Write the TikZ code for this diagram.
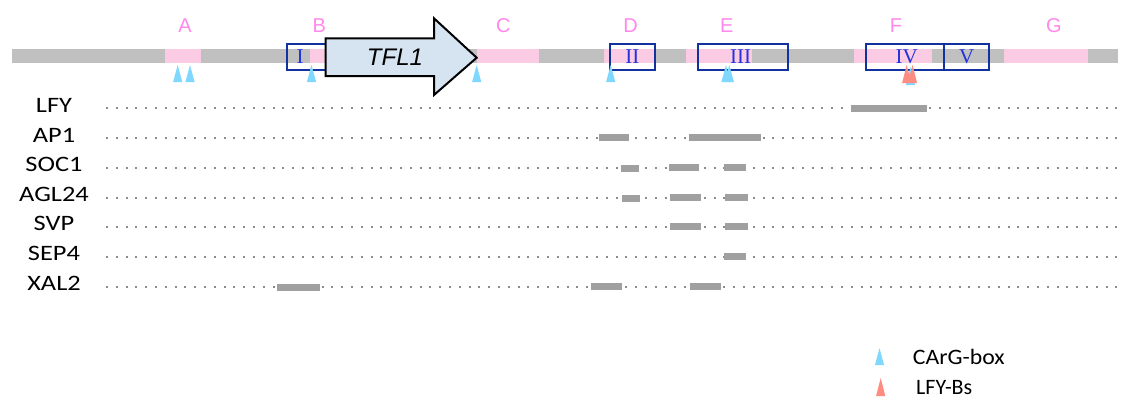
\documentclass[tikz,border=0pt]{standalone}
\usepackage{graphicx}
\usepackage{fontspec}
\setmainfont{Carlito}
\newfontfamily\arialf{Liberation Sans}
\newfontfamily\timesf{Liberation Serif}
\newfontfamily\calf{Carlito}
\definecolor{bargray}{HTML}{C0C0C0}
\definecolor{pinkreg}{HTML}{FBCBE3}
\definecolor{pinklab}{HTML}{FF88EC}
\definecolor{boxblue}{HTML}{12329F}
\definecolor{numblue}{HTML}{2233DD}
\definecolor{cargcol}{HTML}{80D8FF}
\definecolor{lfycol}{HTML}{FF8C80}
\definecolor{bindgray}{HTML}{A0A0A0}
\definecolor{dotgray}{HTML}{8C8C8C}
\definecolor{arrowfill}{HTML}{D6E4F2}
\newcommand\mytri[4]{\fill[#1] (#2-4.6,#4) -- (#2,#3) -- (#2+4.6,#4) -- cycle;}
\newcommand\mybind[3]{\fill[bindgray] (#1,#3-3.7) rectangle (#2,#3+3.7);}
\begin{document}
\begin{tikzpicture}[x=1pt,y=-1pt,
  genebar/.style={fill=bargray},
  region/.style={fill=pinkreg},
  sitebox/.style={draw=boxblue,line width=2pt},
  numeral/.style={text=numblue,font=\timesf\fontsize{21}{21}\selectfont,inner sep=0pt},
  reglabel/.style={text=pinklab,font=\arialf\fontsize{20}{20}\selectfont,inner sep=0pt},
  rowlabel/.style={font=\calf\fontsize{22}{22}\selectfont,inner sep=0pt},
  legtext/.style={font=\calf\fontsize{22}{22}\selectfont,inner sep=0pt,anchor=west},
  dotline/.style={draw=dotgray,line width=2pt,dash pattern=on 2pt off 7.8pt},
  genearrow/.style={draw=black,line width=2pt,fill=arrowfill,line join=miter}]
\useasboundingbox (0,0) rectangle (1122,399);
\fill[white] (0,0) rectangle (1122,399);
% genomic bar
\fill[genebar] (12.3,49.3) rectangle (1118,63.3);
\fill[region] (165,49.3) rectangle (201,63.3);
\fill[region] (310,49.3) rectangle (326,63.3);
\fill[region] (476.7,49.3) rectangle (539,63.3);
\fill[region] (604,49.3) rectangle (655,63.3);
\fill[region] (685.7,49.3) rectangle (752.3,63.3);
\fill[region] (854,49.3) rectangle (932.3,63.3);
\fill[region] (1004,49.3) rectangle (1088.3,63.3);
% region labels
\node[reglabel] (rA) at (185,26) {A};
\node[reglabel] (rB) at (319.3,26) {B};
\node[reglabel] (rC) at (503.3,26) {C};
\node[reglabel] (rD) at (630.7,26) {D};
\node[reglabel] (rE) at (726.7,26) {E};
\node[reglabel] (rF) at (896,26) {F};
\node[reglabel] (rG) at (1054,26) {G};
% numerals
\node[numeral] (nI) at (300,57) {I};
\node[numeral] (nII) at (632.3,57) {II};
\node[numeral] (nIII) at (740.5,57) {III};
\node[numeral] (nIV) at (906.7,57) {IV};
\node[numeral] (nV) at (966.7,57) {V};
% boxes
\draw[sitebox] (287.3,44) rectangle (325.7,70);
\draw[sitebox] (610,44) rectangle (655.3,70);
\draw[sitebox] (697.5,44) rectangle (788,70);
\draw[sitebox] (866,44) rectangle (944.3,70);
\draw[sitebox] (944.3,44) rectangle (989,70);
% triangles
\mytri{cargcol}{177.7}{65}{82}
\mytri{cargcol}{190}{65}{82}
\mytri{cargcol}{311.5}{65}{82}
\mytri{cargcol}{476.7}{65}{82}
\mytri{cargcol}{610.7}{65}{82}
\mytri{cargcol}{726}{65}{82}
\mytri{cargcol}{729.3}{65}{82}
\mytri{cargcol}{910.5}{67}{85}
\mytri{lfycol}{906.7}{65}{83}
\mytri{lfycol}{912.5}{65}{83}
% TFL1 arrow
\draw[genearrow] (325.7,38.3) -- (434,38.3) -- (434,18.3) -- (476.7,57.7) -- (434,95) -- (434,76) -- (325.7,76) -- cycle;
\node[font=\arialf\itshape\fontsize{24}{24}\selectfont,inner sep=0pt] (tfl) at (395,57.5) {TFL1};
% rows
\foreach \yy in {108.3,138,168,197.7,226.7,256.7,286.7}{
  \draw[dotline] (106,\yy) -- (1120,\yy);
}
\node[rowlabel] (lLFY) at (54,105) {\scalebox{1.2}[1]{LFY}};
\node[rowlabel] (lAP1) at (54,135) {\scalebox{1.2}[1]{AP1}};
\node[rowlabel] (lSOC1) at (54,164.5) {\scalebox{1.2}[1]{SOC1}};
\node[rowlabel] (lAGL24) at (54,194) {\scalebox{1.2}[1]{AGL24}};
\node[rowlabel] (lSVP) at (54,223.5) {\scalebox{1.2}[1]{SVP}};
\node[rowlabel] (lSEP4) at (54,253.3) {\scalebox{1.2}[1]{SEP4}};
\node[rowlabel] (lXAL2) at (54,283) {\scalebox{1.2}[1]{XAL2}};
% binding bars
\mybind{851.3}{927}{108.7}
\mybind{598.7}{629.3}{137.7}
\mybind{689.3}{760.7}{137.7}
\mybind{621}{638.7}{168.5}
\mybind{668.7}{699.3}{167.7}
\mybind{724}{746}{167.7}
\mybind{622.3}{640}{198.3}
\mybind{670}{700.7}{197.3}
\mybind{725.3}{747.7}{197.3}
\mybind{670}{700.7}{226.7}
\mybind{725.3}{747.7}{226.7}
\mybind{724}{746}{256.7}
\mybind{276.7}{320}{287.3}
\mybind{591}{622.3}{286.7}
\mybind{690}{721}{286.7}
% legend
\mytri{cargcol}{879.5}{348.3}{365}
\mytri{lfycol}{880.7}{378}{396}
\node[legtext] (lgC) at (912.7,357.3) {\scalebox{1.08}[1]{CArG-box}};
\node[legtext] (lgL) at (916,387.5) {LFY-Bs};
\end{tikzpicture}
\end{document}
